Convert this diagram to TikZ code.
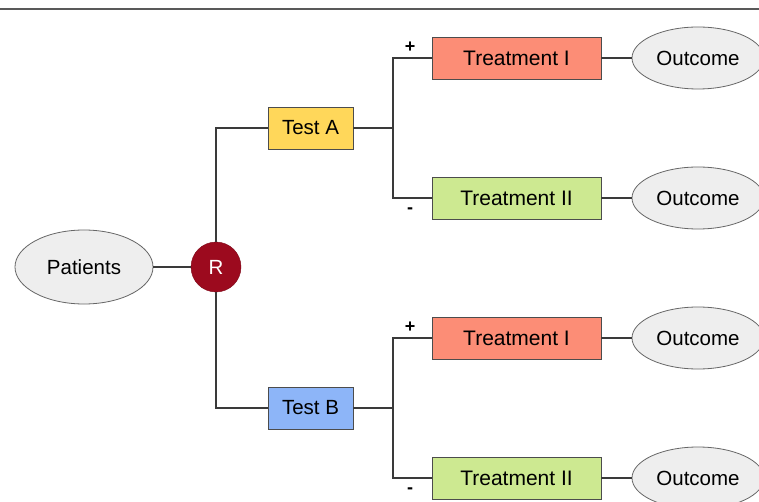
\documentclass[tikz,border=0pt]{standalone}
\usepackage{fontspec}
\setmainfont{Liberation Sans}
\usetikzlibrary{shapes.geometric}
\definecolor{trtone}{HTML}{FC8D76}
\definecolor{trttwo}{HTML}{CDE991}
\definecolor{testa}{HTML}{FFD75A}
\definecolor{testb}{HTML}{8DB5F8}
\definecolor{rred}{HTML}{9C0A1E}
\definecolor{ellfill}{HTML}{EEEEEE}
\definecolor{linegray}{HTML}{3A3A3A}
\tikzset{
  conn/.style={draw=linegray, line width=1.1pt},
  ell/.style={ellipse, draw=gray!80!black, fill=ellfill, line width=0.8pt, inner sep=0pt, font=\fontsize{20.5}{24}\selectfont},
  testbox/.style={rectangle, draw=gray!60!black, line width=0.8pt, minimum width=85pt, minimum height=42pt, inner sep=0pt, font=\fontsize{20.5}{24}\selectfont},
  trtbox/.style={rectangle, draw=gray!60!black, line width=0.8pt, minimum width=169pt, minimum height=42pt, inner sep=0pt, font=\fontsize{21}{24}\selectfont},
  sign/.style={font=\fontsize{18}{20}\selectfont\bfseries, inner sep=0pt}
}
\begin{document}
\begin{tikzpicture}[x=1pt,y=-1pt]
\useasboundingbox (0,0) rectangle (759,502);
\clip (0,0) rectangle (759,502);
\fill[white] (0,0) rectangle (759,502);
\coordinate (tl) at (0,9);
\coordinate (tr) at (759,9);
\draw[draw=gray!70!black, line width=1.2pt] (tl) -- (tr);

\node[ell, minimum width=138pt, minimum height=74pt] (pat) at (84,267) {Patients};
\node[circle, fill=rred, draw=rred!80!black, minimum size=50pt, inner sep=0pt, text=white, font=\fontsize{20.5}{24}\selectfont] (R) at (216,267) {R};
\node[testbox, fill=testa] (ta) at (310.5,128) {Test A};
\node[testbox, fill=testb] (tb) at (310.5,408) {Test B};

\node[trtbox, fill=trtone] (a1) at (516.5,58) {Treatment I};
\node[trtbox, fill=trttwo] (a2) at (516.5,198) {Treatment II};
\node[trtbox, fill=trtone] (b1) at (516.5,338) {Treatment I};
\node[trtbox, fill=trttwo] (b2) at (516.5,478) {Treatment II};

\node[ell, minimum width=132pt, minimum height=62pt] (o1) at (698,58) {Outcome};
\node[ell, minimum width=132pt, minimum height=62pt] (o2) at (698,198) {Outcome};
\node[ell, minimum width=132pt, minimum height=62pt] (o3) at (698,338) {Outcome};
\node[ell, minimum width=132pt, minimum height=62pt] (o4) at (698,478) {Outcome};

\coordinate (ja) at (393,128);
\coordinate (jb) at (393,408);

\draw[conn] (pat) -- (R);
\draw[conn] (R.north) |- (ta.west);
\draw[conn] (R.south) |- (tb.west);
\draw[conn] (ta.east) -- (ja);
\draw[conn] (tb.east) -- (jb);
\draw[conn] (ja) |- (a1.west);
\draw[conn] (ja) |- (a2.west);
\draw[conn] (jb) |- (b1.west);
\draw[conn] (jb) |- (b2.west);
\draw[conn] (a1) -- (o1);
\draw[conn] (a2) -- (o2);
\draw[conn] (b1) -- (o3);
\draw[conn] (b2) -- (o4);

\node[sign] (p1) at (410,47) {+};
\node[sign] (m1) at (410,211) {-};
\node[sign] (p2) at (410,327) {+};
\node[sign] (m2) at (410,491) {-};
\end{tikzpicture}
\end{document}
